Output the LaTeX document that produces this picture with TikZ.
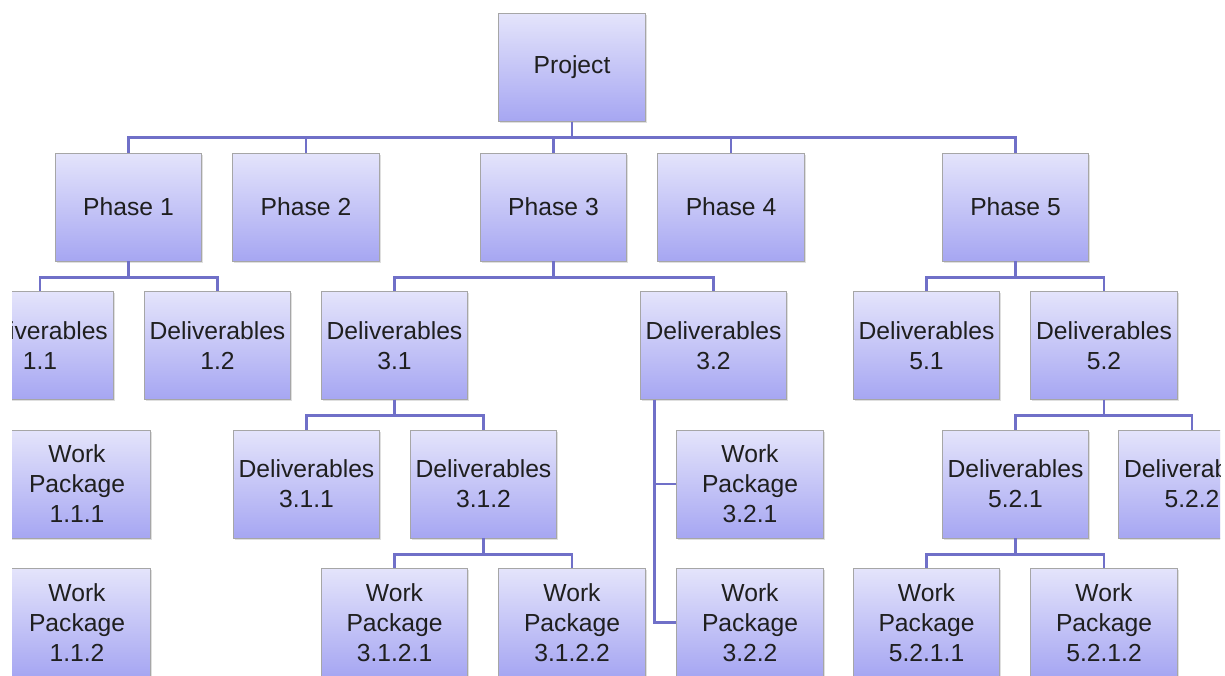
\documentclass[tikz,border=0pt]{standalone}
\usepackage{fontspec}
\setmainfont{Liberation Sans}
\usetikzlibrary{shadows}
\begin{document}
\begin{tikzpicture}[x=0.75pt,y=-0.75pt]

\definecolor{boxtop}{RGB}{228,228,251}
\definecolor{boxbot}{RGB}{166,166,242}
\definecolor{linkcol}{RGB}{112,112,200}
% size of each box
\def\bw{110pt}
\def\bh{81pt}
% box and connector styles
\tikzstyle{wbs} = [
	draw=black!35, line width=0.6pt, rectangle,
	top color=boxtop, bottom color=boxbot,
	minimum width=\bw, minimum height=\bh,
	align=center, text=black!88,
	font=\fontsize{18.5pt}{22.5pt}\selectfont,
	drop shadow={opacity=0.25,shadow xshift=1.2pt,shadow yshift=-1.2pt} ];
\tikzstyle{link} = [draw=linkcol, line width=2.2pt];

\useasboundingbox (0,0) rectangle (1225,675);
\clip (12,0) rectangle (1220,675);

\node[wbs] (proj) at (572,67.5) {Project};

\node[wbs] (ph1) at (128.5,207) {Phase 1};
\node[wbs] (ph2) at (306,207) {Phase 2};
\node[wbs] (ph3) at (553.5,207) {Phase 3};
\node[wbs] (ph4) at (731,207) {Phase 4};
\node[wbs] (ph5) at (1015.5,207) {Phase 5};

\node[wbs] (d11) at (40,345.5) {Deliverables\\1.1};
\node[wbs] (d12) at (217.5,345.5) {Deliverables\\1.2};
\node[wbs] (d31) at (394.5,345.5) {Deliverables\\3.1};
\node[wbs] (d32) at (713.5,345.5) {Deliverables\\3.2};
\node[wbs] (d51) at (926.5,345.5) {Deliverables\\5.1};
\node[wbs] (d52) at (1104,345.5) {Deliverables\\5.2};

\node[wbs] (wp111) at (77,484) {Work\\Package\\1.1.1};
\node[wbs] (d311) at (306.5,484) {Deliverables\\3.1.1};
\node[wbs] (d312) at (483.5,484) {Deliverables\\3.1.2};
\node[wbs] (wp321) at (750,484) {Work\\Package\\3.2.1};
\node[wbs] (d521) at (1015.5,484) {Deliverables\\5.2.1};
\node[wbs] (d522) at (1192,484) {Deliverables\\5.2.2};

\node[wbs] (wp112) at (77,622.5) {Work\\Package\\1.1.2};
\node[wbs] (wp3121) at (394.5,622.5) {Work\\Package\\3.1.2.1};
\node[wbs] (wp3122) at (572,622.5) {Work\\Package\\3.1.2.2};
\node[wbs] (wp322) at (750,622.5) {Work\\Package\\3.2.2};
\node[wbs] (wp5211) at (926.5,622.5) {Work\\Package\\5.2.1.1};
\node[wbs] (wp5212) at (1104,622.5) {Work\\Package\\5.2.1.2};

% tree connectors
\foreach \c in {ph1,ph2,ph3,ph4,ph5}
	\draw[link] (proj.south) -- ++(0,16) -| (\c.north);
\foreach \c in {d11,d12}
	\draw[link] (ph1.south) -- ++(0,16) -| (\c.north);
\foreach \c in {d31,d32}
	\draw[link] (ph3.south) -- ++(0,16) -| (\c.north);
\foreach \c in {d51,d52}
	\draw[link] (ph5.south) -- ++(0,16) -| (\c.north);
\foreach \c in {d311,d312}
	\draw[link] (d31.south) -- ++(0,16) -| (\c.north);
\foreach \c in {d521,d522}
	\draw[link] (d52.south) -- ++(0,16) -| (\c.north);
\foreach \c in {wp3121,wp3122}
	\draw[link] (d312.south) -- ++(0,16) -| (\c.north);
\foreach \c in {wp5211,wp5212}
	\draw[link] (d521.south) -- ++(0,16) -| (\c.north);
\foreach \c in {wp321,wp322}
	\draw[link] ([xshift=11.25pt]d32.south west) |- (\c.west);

\end{tikzpicture}
\end{document}
